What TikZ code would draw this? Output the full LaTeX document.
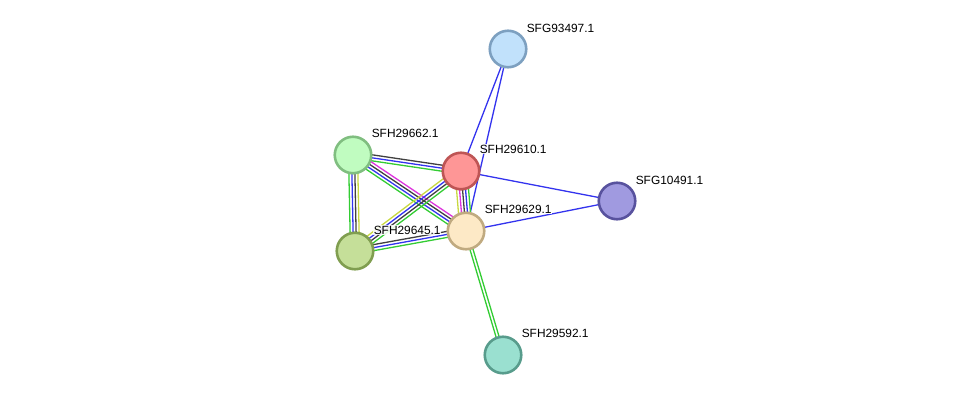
\documentclass[tikz,border=0pt]{standalone}
\usepackage{fontspec}
\setmainfont{Liberation Sans}
\usetikzlibrary{calc,backgrounds}
\definecolor{eblue}{HTML}{3333EE}
\definecolor{egreen}{HTML}{33CC33}
\definecolor{eyellow}{HTML}{C8D840}
\definecolor{emag}{HTML}{DD33DD}
\definecolor{egray}{HTML}{404040}
\tikzset{
  prot/.style={circle, minimum size=36.5pt, inner sep=0pt, line width=2.6pt},
  lbl/.style={font=\fontsize{11.9}{12}\selectfont, anchor=south west, inner sep=0.6pt, fill=white, fill opacity=0.85, text opacity=1},
  edge/.style={line width=1.3pt}
}
\newcommand\edgebundle[3]{%
  \foreach \o/\c in {#3} {%
    \draw[edge,\c] ($(#1.center)!\o pt!90:(#2.center)$) -- ($(#2.center)!\o pt!-90:(#1.center)$);
  }%
}
\begin{document}
\begin{tikzpicture}[x=1pt,y=-1pt]
\useasboundingbox (0,0) rectangle (976,401);
\node[prot, fill={rgb,255:red,193;green,225;blue,251}, draw={rgb,255:red,125;green,160;blue,192}] (g93497) at (508,49) {};
\node[prot, fill={rgb,255:red,192;green,252;blue,192}, draw={rgb,255:red,128;green,190;blue,128}] (h29662) at (353,155) {};
\node[prot, fill={rgb,255:red,254;green,150;blue,150}, draw={rgb,255:red,190;green,85;blue,85}] (h29610) at (461,171) {};
\node[prot, fill={rgb,255:red,160;green,154;blue,224}, draw={rgb,255:red,88;green,82;blue,158}] (g10491) at (617,201) {};
\node[prot, fill={rgb,255:red,197;green,223;blue,153}, draw={rgb,255:red,128;green,158;blue,80}] (h29645) at (355,251) {};
\node[prot, fill={rgb,255:red,253;green,233;blue,198}, draw={rgb,255:red,192;green,170;blue,128}] (h29629) at (466,231) {};
\node[prot, fill={rgb,255:red,154;green,224;blue,208}, draw={rgb,255:red,88;green,156;blue,140}] (h29592) at (503,355) {};

\begin{scope}[on background layer]
\edgebundle{g93497}{h29610}{0/eblue}
\edgebundle{g93497}{h29629}{0/eblue}
\edgebundle{h29610}{g10491}{0/eblue}
\edgebundle{h29629}{g10491}{0/eblue}
\edgebundle{h29629}{h29592}{-1.5/egreen,1.5/egreen}
\edgebundle{h29662}{h29610}{3/egray,0/eblue,-3/egreen}
\edgebundle{h29662}{h29629}{4.5/emag,1.5/egray,-1.5/eblue,-4.5/egreen}
\edgebundle{h29662}{h29645}{-4.5/egreen,-1.5/eblue,1.5/egray,4.5/eyellow}
\edgebundle{h29610}{h29645}{-4.5/eyellow,-1.5/eblue,1.5/egray,4.5/egreen}
\edgebundle{h29610}{h29629}{-6/eyellow,-3/emag,0/egray,3/eblue,6/egreen}
\edgebundle{h29645}{h29629}{3/egray,0/eblue,-3/egreen}
\end{scope}

\node[lbl] (lg93497) at (526,33) {SFG93497.1};
\node[lbl] (lh29662) at (371,138) {SFH29662.1};
\node[lbl] (lh29610) at (479,154) {SFH29610.1};
\node[lbl] (lg10491) at (635,185) {SFG10491.1};
\node[lbl] (lh29629) at (484,214) {SFH29629.1};
\node[lbl] (lh29645) at (373,235) {SFH29645.1};
\node[lbl] (lh29592) at (521,338) {SFH29592.1};
\end{tikzpicture}
\end{document}
